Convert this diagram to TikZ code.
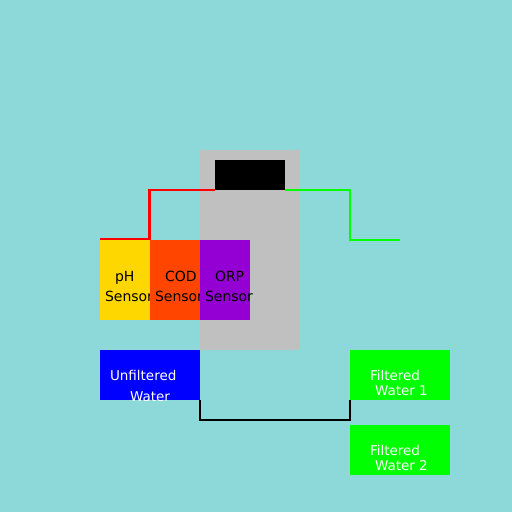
\documentclass[tikz,border=0pt]{standalone}
\usepackage{fontspec}
\setmainfont{DejaVu Sans}
\definecolor{bgc}{RGB}{141,216,216}
\definecolor{unitgray}{RGB}{192,192,192}
\definecolor{phgold}{RGB}{255,215,0}
\definecolor{codorange}{RGB}{255,69,0}
\definecolor{orpviolet}{RGB}{148,0,211}
\definecolor{wblue}{RGB}{0,0,255}
\definecolor{wlime}{RGB}{0,255,0}
\begin{document}
\begin{tikzpicture}[x=1pt,y=-1pt,
  box/.style={draw=none, inner sep=0pt, outer sep=0pt, anchor=north west},
  slbl/.style={anchor=base west, inner sep=0pt, outer sep=0pt, text=black, font=\fontsize{14}{14}\selectfont},
  wlbl/.style={anchor=base west, inner sep=0pt, outer sep=0pt, text=white, font=\fontsize{13.5}{13.5}\selectfont},
  pipe/.style={line width=2.6pt, line cap=butt, line join=miter}]
\fill[bgc] (0,0) rectangle (512,512);
\useasboundingbox (0,0) rectangle (512,512);
% unit
\node[box, fill=unitgray, minimum width=100pt, minimum height=200pt] (unit) at (200,150) {};
\node[box, fill=black, minimum width=70pt, minimum height=30pt] (disp) at (215,160) {};
% pipes to sensor side and outlet
\coordinate (redstart) at (100,239.5);
\coordinate (gend) at (400,240);
\draw[pipe, red] (redstart) -- (149.5,239.5) -- (149.5,190) -- (disp.south west);
\draw[pipe, wlime] (disp.south east) -- (350,190) -- (350,240) -- (gend);
% sensors
\node[box, fill=phgold, minimum width=50pt, minimum height=80pt] (ph) at (100,240) {};
\node[slbl] (pht1) at (115,281) {pH};
\node[slbl] (pht2) at (105,301) {Sensor};
\node[box, fill=codorange, minimum width=50pt, minimum height=80pt] (cod) at (150,240) {};
\node[slbl] (codt1) at (165,281) {COD};
\node[slbl] (codt2) at (155,301) {Sensor};
\node[box, fill=orpviolet, minimum width=50pt, minimum height=80pt] (orp) at (200,240) {};
\node[slbl] (orpt1) at (215,281) {ORP};
\node[slbl] (orpt2) at (205,301) {Sensor};
% water boxes
\node[box, fill=wblue, minimum width=100pt, minimum height=50pt] (unf) at (100,350) {};
\begin{scope}
\clip (100,350) rectangle (200,400);
\node[wlbl] (unft1) at (110,380) {Unfiltered};
\node[wlbl] (unft2) at (130,401) {Water};
\end{scope}
\node[box, fill=wlime, minimum width=100pt, minimum height=50pt] (fw1) at (350,350) {};
\node[wlbl] (fw1t1) at (370,380) {Filtered};
\node[wlbl] (fw1t2) at (375,395) {Water 1};
\node[box, fill=wlime, minimum width=100pt, minimum height=50pt] (fw2) at (350,425) {};
\node[wlbl] (fw2t1) at (370,455) {Filtered};
\node[wlbl] (fw2t2) at (375,470) {Water 2};
% connector
\draw[pipe, black] (unf.south east) -- (200,420) -- (350,420) -- (fw1.south west);
\end{tikzpicture}
\end{document}
